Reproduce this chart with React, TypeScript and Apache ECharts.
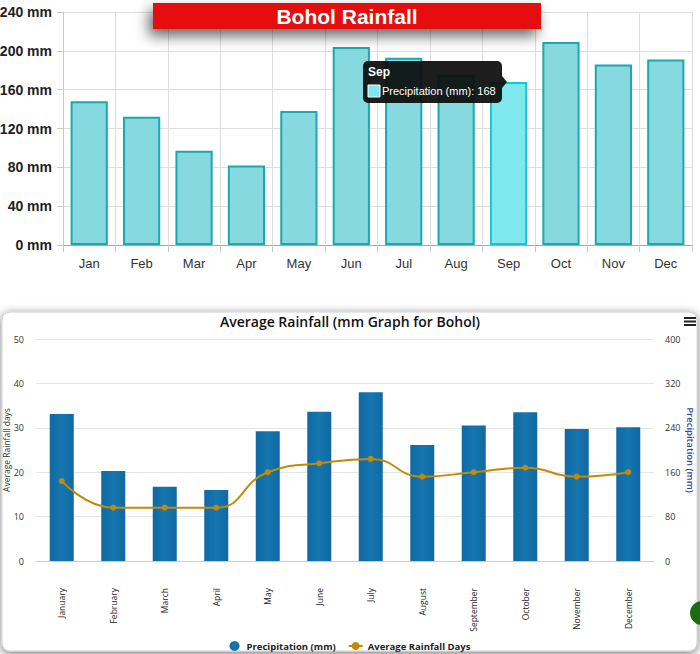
import React, { useEffect, useRef } from "react";
import * as echarts from "echarts";

const monthsShort = ["Jan", "Feb", "Mar", "Apr", "May", "Jun", "Jul", "Aug", "Sep", "Oct", "Nov", "Dec"];
const monthsLong = ["January", "February", "March", "April", "May", "June", "July", "August", "September", "October", "November", "December"];
const topPrecip = [148, 132, 97, 82, 138, 204, 193, 175, 168, 209, 186, 191];
const bottomPrecip = [265, 162, 134, 128, 234, 269, 304, 209, 244, 268, 238, 241];
const rainDays = [18, 12, 12, 12, 20, 22, 23, 19, 20, 21, 19, 20];
const highlightIndex = 8;

const SANS = "Helvetica, Arial, 'Liberation Sans', sans-serif";
const OPEN = "'Open Sans', 'Noto Sans', sans-serif";

export default function App() {
  const ref = useRef<HTMLDivElement>(null);
  useEffect(() => {
    if (!ref.current) return;
    const chart = echarts.init(ref.current, undefined, { renderer: "svg" });
    const topData = topPrecip.map((v, i) =>
      i === highlightIndex
        ? { value: v, itemStyle: { color: "#7EE8EE", borderColor: "#16C6CF" } }
        : v
    );
    const TZ = 40;
    chart.setOption({
      animation: false,
      backgroundColor: "#ffffff",
      title: {
        text: "Average Rainfall (mm Graph for Bohol)",
        left: "center",
        top: 309,
        textStyle: { fontSize: 14, fontWeight: 600, fontFamily: OPEN, color: "#111" },
      },
      legend: {
        top: 641,
        left: "center",
        padding: 0,
        itemGap: 12,
        itemWidth: 14,
        itemHeight: 10,
        textStyle: { fontSize: 9.5, fontWeight: "bold", fontFamily: OPEN, color: "#222" },
        data: [
          { name: "Precipitation (mm)", icon: "circle" },
          { name: "Average Rainfall Days" },
        ],
      },
      grid: [
        { left: 63, top: 12, width: 629, height: 233, outerBoundsMode: "none" },
        { left: 36, top: 339, width: 618, height: 222, outerBoundsMode: "none" },
      ],
      xAxis: [
        {
          type: "category",
          gridIndex: 0,
          data: monthsShort,
          axisLine: { lineStyle: { color: "#a8a8a8" } },
          axisTick: { show: true, length: 7, lineStyle: { color: "#c8c8c8" } },
          splitLine: { show: true, lineStyle: { color: "#dedede" } },
          axisLabel: { color: "#333", fontSize: 13, fontFamily: SANS, margin: 12 },
        },
        {
          type: "category",
          gridIndex: 1,
          data: monthsLong,
          axisLine: { lineStyle: { color: "#C0D0E0" } },
          axisTick: { show: false },
          axisLabel: { rotate: 90, color: "#222", fontSize: 8.5, fontFamily: OPEN, margin: 27 },
        },
      ],
      yAxis: [
        {
          type: "value",
          gridIndex: 0,
          min: 0,
          max: 240,
          interval: 40,
          axisLine: { show: true, lineStyle: { color: "#c8c8c8" } },
          axisTick: { show: true, length: 6, lineStyle: { color: "#c8c8c8" } },
          splitLine: { lineStyle: { color: "#dedede" } },
          axisLabel: {
            formatter: "{value} mm",
            color: "#222",
            fontSize: 14,
            fontWeight: "bold",
            fontFamily: SANS,
            margin: 11,
          },
        },
        {
          type: "value",
          gridIndex: 1,
          position: "left",
          min: 0,
          max: 50,
          interval: 10,
          name: "Average Rainfall days",
          nameLocation: "middle",
          nameMoveOverlap: false,
          nameGap: 25,
          nameTextStyle: { fontSize: 8.5, fontFamily: OPEN, color: "#333" },
          axisLine: { show: false },
          axisTick: { show: false },
          splitLine: { lineStyle: { color: "#E6E6E6" } },
          axisLabel: { color: "#333", fontSize: 9, fontFamily: OPEN, margin: 12 },
        },
        {
          type: "value",
          gridIndex: 1,
          position: "right",
          min: 0,
          max: 400,
          interval: 80,
          name: "Precipitation (mm)",
          nameLocation: "middle",
          nameMoveOverlap: false,
          nameRotate: -90,
          nameGap: 31,
          nameTextStyle: { fontSize: 9.5, fontWeight: 600, fontFamily: OPEN, color: "#274B9F" },
          axisLine: { show: false },
          axisTick: { show: false },
          splitLine: { show: false },
          axisLabel: { color: "#333", fontSize: 9, fontFamily: OPEN, margin: 11 },
        },
      ],
      series: [
        {
          name: "Bohol Rainfall",
          type: "bar",
          xAxisIndex: 0,
          yAxisIndex: 0,
          barCategoryGap: "29%",
          data: topData,
          itemStyle: { color: "#86D9DE", borderColor: "#1BA8AE", borderWidth: 2 },
        },
        {
          name: "Precipitation (mm)",
          type: "bar",
          xAxisIndex: 1,
          yAxisIndex: 2,
          barWidth: 24,
          data: bottomPrecip,
          itemStyle: {
            color: new echarts.graphic.LinearGradient(0, 0, 1, 0, [
              { offset: 0, color: "#1069A2" },
              { offset: 0.5, color: "#1676AF" },
              { offset: 1, color: "#1069A2" },
            ]),
          },
        },
        {
          name: "Average Rainfall Days",
          type: "line",
          xAxisIndex: 1,
          yAxisIndex: 1,
          smooth: true,
          data: rainDays,
          symbol: "circle",
          symbolSize: 6,
          lineStyle: { color: "#C38A07", width: 2 },
          itemStyle: { color: "#C38A07" },
          z: 5,
        },
      ],
      graphic: [
        {
          type: "rect",
          z: -10,
          shape: { x: 2, y: 312, width: 695, height: 339, r: 8 },
          style: {
            fill: "#ffffff",
            stroke: "#d0d0d0",
            lineWidth: 1,
            shadowBlur: 10,
            shadowOffsetY: 2,
            shadowColor: "rgba(0,0,0,0.55)",
          },
        },
        {
          type: "rect",
          z: 20,
          shape: { x: 153, y: 3, width: 388, height: 26 },
          style: {
            fill: "#E50E0E",
            shadowBlur: 14,
            shadowOffsetX: -4,
            shadowOffsetY: 7,
            shadowColor: "rgba(0,0,0,0.6)",
          },
        },
        {
          type: "text",
          z: 21,
          x: 347,
          y: 16,
          style: {
            text: "Bohol Rainfall",
            fill: "#ffffff",
            fontSize: 21,
            fontWeight: "bold",
            fontFamily: SANS,
            align: "center",
            verticalAlign: "middle",
          },
        },
        {
          type: "rect",
          z: TZ,
          shape: { x: 363, y: 61, width: 139, height: 42, r: 5 },
          style: { fill: "rgba(12,12,12,0.93)" },
        },
        {
          type: "polygon",
          z: TZ,
          shape: { points: [[502, 76], [507, 82], [502, 88]] },
          style: { fill: "rgba(12,12,12,0.93)" },
        },
        {
          type: "text",
          z: TZ + 1,
          x: 368,
          y: 72,
          style: {
            text: monthsShort[highlightIndex],
            fill: "#fff",
            fontSize: 12,
            fontWeight: "bold",
            fontFamily: SANS,
            verticalAlign: "middle",
          },
        },
        {
          type: "rect",
          z: TZ + 1,
          shape: { x: 368, y: 85, width: 12, height: 12 },
          style: { fill: "#7EE8EE", stroke: "#ffffff", lineWidth: 1 },
        },
        {
          type: "text",
          z: TZ + 1,
          x: 382,
          y: 91,
          style: {
            text: "Precipitation (mm): " + topPrecip[highlightIndex],
            fill: "#fff",
            fontSize: 11,
            fontFamily: SANS,
            verticalAlign: "middle",
          },
        },
        { type: "rect", z: 30, shape: { x: 684, y: 317, width: 12, height: 2 }, style: { fill: "#222" } },
        { type: "rect", z: 30, shape: { x: 684, y: 320.5, width: 12, height: 2 }, style: { fill: "#222" } },
        { type: "rect", z: 30, shape: { x: 684, y: 324, width: 12, height: 2 }, style: { fill: "#222" } },
        { type: "circle", z: 30, shape: { cx: 702, cy: 613, r: 12 }, style: { fill: "#1E6B16" } },
      ],
    });
    return () => chart.dispose();
  }, []);
  return (
    <div
      ref={ref}
      style={{ position: "fixed", left: 0, top: 0, width: 700, height: 654 }}
    />
  );
}
